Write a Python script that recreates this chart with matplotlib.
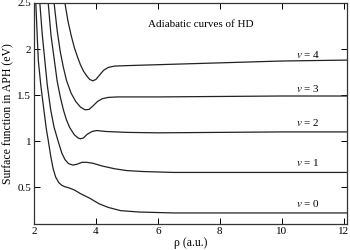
import matplotlib
matplotlib.use("Agg")
import matplotlib.pyplot as plt

# rho (a.u.) and surface function energies (eV)
rho_v0 = [2.06, 2.14, 2.22, 2.32, 2.4, 2.46, 2.54, 2.62, 2.7, 2.8, 2.9, 3.0, 3.15, 3.3,
          3.5, 3.8, 4.1, 4.4, 4.8, 5.4, 6.5, 8.0, 10.0, 12.1]
e_v0 = [2.5, 1.88, 1.61, 1.34, 1.13, 1.01, 0.84, 0.70, 0.61, 0.55, 0.52, 0.505, 0.49, 0.47,
        0.43, 0.38, 0.32, 0.28, 0.245, 0.23, 0.22, 0.22, 0.22, 0.22]

rho_v1 = [2.19, 2.27, 2.35, 2.43, 2.54, 2.65, 2.78, 2.9, 3.0, 3.12, 3.26, 3.4, 3.55,
          3.7, 3.9, 4.2, 4.6, 5.0, 5.5, 6.5, 8.0, 10.0, 12.1]
e_v1 = [2.5, 2.15, 1.88, 1.61, 1.34, 1.15, 1.0, 0.87, 0.8, 0.755, 0.74, 0.75, 0.77,
        0.77, 0.76, 0.73, 0.70, 0.68, 0.67, 0.66, 0.66, 0.66, 0.66]

rho_v2 = [2.46, 2.55, 2.65, 2.75, 2.85, 2.95, 3.05, 3.15, 3.3, 3.42, 3.5, 3.6, 3.72,
          3.88, 4.03, 4.3, 5.0, 6.0, 8.0, 10.0, 12.1]
e_v2 = [2.5, 2.15, 1.9, 1.65, 1.48, 1.34, 1.23, 1.15, 1.07, 1.035, 1.025, 1.035, 1.075,
        1.105, 1.115, 1.105, 1.095, 1.09, 1.095, 1.1, 1.1]

rho_v3 = [2.65, 2.75, 2.85, 2.95, 3.05, 3.2, 3.35, 3.5, 3.65, 3.78, 3.9, 4.05, 4.2,
          4.4, 4.7, 5.0, 6.0, 8.0, 10.0, 12.1]
e_v3 = [2.5, 2.2, 1.97, 1.8, 1.66, 1.52, 1.43, 1.37, 1.34, 1.345, 1.38, 1.43, 1.46,
        1.475, 1.48, 1.48, 1.48, 1.485, 1.49, 1.49]

rho_v4 = [3.0, 3.1, 3.2, 3.3, 3.4, 3.5, 3.6, 3.7, 3.8, 3.9, 4.0, 4.1, 4.25, 4.4,
          4.6, 5.0, 6.0, 8.0, 10.0, 12.1]
e_v4 = [2.5, 2.3, 2.15, 2.02, 1.92, 1.83, 1.76, 1.71, 1.67, 1.655, 1.67, 1.71, 1.77, 1.80,
        1.815, 1.82, 1.83, 1.85, 1.87, 1.88]

curves = [(rho_v0, e_v0), (rho_v1, e_v1), (rho_v2, e_v2), (rho_v3, e_v3), (rho_v4, e_v4)]
labels = ["0", "1", "2", "3", "4"]
label_y = [0.32, 0.77, 1.20, 1.57, 1.94]

plt.rcParams["font.family"] = ["Liberation Serif", "DejaVu Serif"]
plt.rcParams["mathtext.fontset"] = "stix"

fig = plt.figure(figsize=(3.5, 2.5), dpi=100)
ax = fig.add_axes([0.097, 0.104, 0.894, 0.884])

for (x, y) in curves:
    ax.plot(x, y, color="#222222", linewidth=0.9)

for lab, ly in zip(labels, label_y):
    ax.text(10.85, ly, r"$v$ = " + lab, fontsize=8, ha="center", va="center")

ax.text(5.68, 2.27, "Adiabatic curves of HD", fontsize=8, ha="left", va="center")

ax.set_xlim(2, 12.1)
ax.set_ylim(0.1, 2.5)
ax.set_xticks([2, 4, 6, 8, 10, 12])
ax.set_yticks([0.5, 1, 1.5, 2, 2.5])
ax.set_yticklabels(["0.5", "1", "1.5", "2", "2.5"])
ax.tick_params(direction="in", top=True, right=True, length=4, width=0.7,
               labelsize=8, pad=2)
for sp in ax.spines.values():
    sp.set_linewidth(0.9)
    sp.set_color("#333333")

ax.set_xlabel("ρ (a.u.)", fontsize=8.5, labelpad=1)
ax.set_ylabel("Surface function in APH (eV)", fontsize=8.5, labelpad=2)

fig.savefig("out.png", dpi=100)
